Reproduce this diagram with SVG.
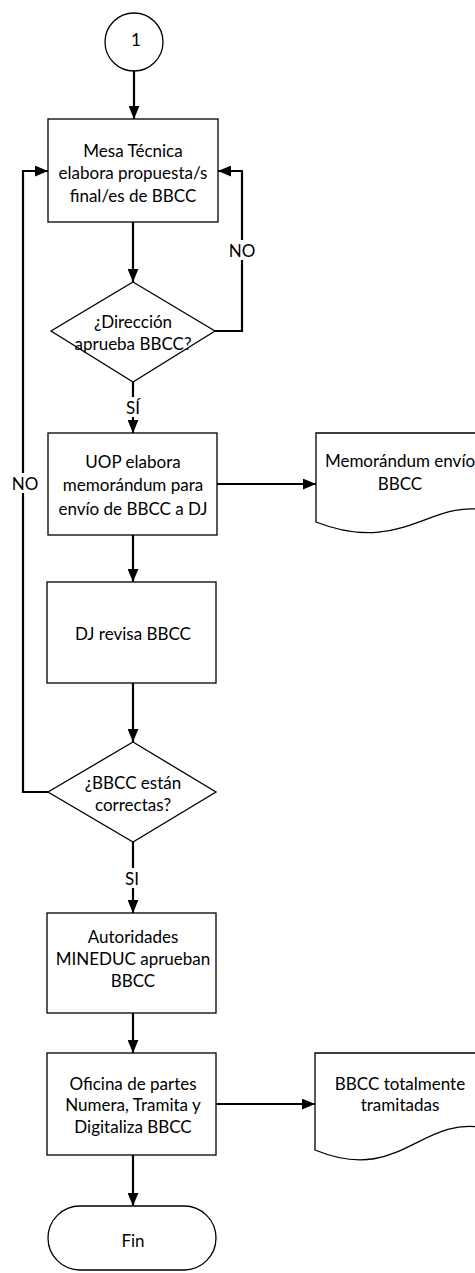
<svg xmlns="http://www.w3.org/2000/svg" width="475" height="1273" viewBox="0 0 475 1273">
  <defs>
    <marker id="arrow" viewBox="0 0 12 10" refX="12" refY="5" markerWidth="13" markerHeight="11" markerUnits="userSpaceOnUse" orient="auto">
      <path d="M0,0 L12,5 L0,10 Z" fill="#000"/>
    </marker>
    <style>
      .shape { fill: #fff; stroke: #000; stroke-width: 1.3; }
      .conn { fill: none; stroke: #000; stroke-width: 2.2; }
      .arr { marker-end: url(#arrow); }
      text { font-family: Lato, "Open Sans", "Liberation Sans", sans-serif; font-size: 17px; fill: #000; text-anchor: middle; dominant-baseline: central; }
      .lbl { fill: #fff; stroke: none; }
    </style>
  </defs>
  <rect width="475" height="1273" fill="#fff"/>

  <!-- connectors -->
  <g id="connectors">
    <path class="conn arr" d="M134,71 V119"/>
    <path class="conn arr" d="M133,222 V282"/>
    <path class="conn arr" d="M215,331 H242 V171 H218"/>
    <path class="conn arr" d="M133,382 V433"/>
    <path class="conn arr" d="M217,484 H316"/>
    <path class="conn arr" d="M133,535 V582"/>
    <path class="conn arr" d="M133,683 V742"/>
    <path class="conn arr" d="M48,792 H23 V171 H48"/>
    <path class="conn arr" d="M133,842 V913"/>
    <path class="conn arr" d="M133,1013 V1053"/>
    <path class="conn arr" d="M216,1104 H315"/>
    <path class="conn arr" d="M133,1155 V1206"/>
    <!-- branch labels -->
    <rect class="lbl" x="229" y="240" width="26" height="20"/>
    <text x="242" y="250">NO</text>
    <rect class="lbl" x="120" y="397" width="26" height="20"/>
    <text x="133" y="407">SÍ</text>
    <rect class="lbl" x="10" y="473" width="30" height="20"/>
    <text x="25" y="483">NO</text>
    <rect class="lbl" x="122" y="868" width="22" height="20"/>
    <text x="132" y="878">SI</text>
  </g>

  <!-- start connector -->
  <g id="n-start">
    <circle class="shape" cx="134" cy="42" r="29"/>
    <text x="136" y="39">1</text>
  </g>

  <g id="n-mesa">
    <rect class="shape" x="48" y="119" width="170" height="103"/>
    <text x="133" y="150">Mesa Técnica</text>
    <text x="133" y="172">elabora propuesta/s</text>
    <text x="133" y="195">final/es de BBCC</text>
  </g>

  <g id="n-direccion">
    <polygon class="shape" points="133,282 215,331 133,382 51,331"/>
    <text x="133" y="321">¿Dirección</text>
    <text x="133" y="343">aprueba BBCC?</text>
  </g>

  <g id="n-uop">
    <rect class="shape" x="48" y="433" width="169" height="102"/>
    <text x="133" y="461">UOP elabora</text>
    <text x="133" y="484">memorándum para</text>
    <text x="133" y="508">envío de BBCC a DJ</text>
  </g>

  <g id="n-memo">
    <path class="shape" d="M316,433 H485 V510 C430,500 400,555 316,522 Z"/>
    <text x="400" y="460">Memorándum envío</text>
    <text x="400" y="483">BBCC</text>
  </g>

  <g id="n-dj">
    <rect class="shape" x="47" y="582" width="169" height="101"/>
    <text x="133" y="633">DJ revisa BBCC</text>
  </g>

  <g id="n-correctas">
    <polygon class="shape" points="133,742 216,792 133,842 48,792"/>
    <text x="133" y="782">¿BBCC están</text>
    <text x="133" y="804">correctas?</text>
  </g>

  <g id="n-autoridades">
    <rect class="shape" x="47" y="913" width="169" height="100"/>
    <text x="133" y="936">Autoridades</text>
    <text x="133" y="958">MINEDUC aprueban</text>
    <text x="133" y="980">BBCC</text>
  </g>

  <g id="n-oficina">
    <rect class="shape" x="47" y="1053" width="169" height="102"/>
    <text x="133" y="1083">Oficina de partes</text>
    <text x="133" y="1104">Numera, Tramita y</text>
    <text x="133" y="1126">Digitaliza BBCC</text>
  </g>

  <g id="n-tramitadas">
    <path class="shape" d="M315,1053 H485 V1128 C420,1115 400,1185 315,1150 Z"/>
    <text x="400" y="1083">BBCC totalmente</text>
    <text x="400" y="1104">tramitadas</text>
  </g>

  <g id="n-fin">
    <rect class="shape" x="48" y="1206" width="168" height="64" rx="32" ry="32"/>
    <text x="133" y="1240">Fin</text>
  </g>
</svg>
